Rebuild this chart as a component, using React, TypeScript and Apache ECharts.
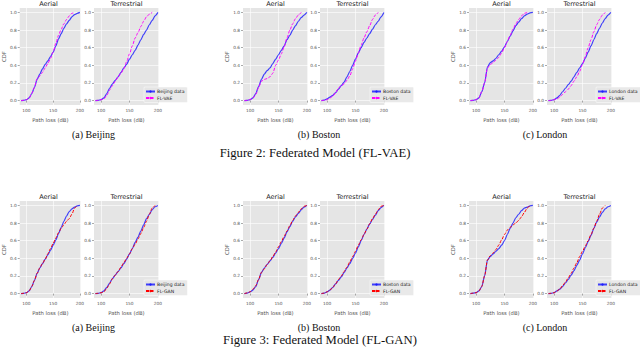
import { useEffect, useRef } from "react";
import * as echarts from "echarts";

// Path loss grid (dB) shared by every CDF curve
const pathLoss = [90, 95, 100, 105, 110, 115, 120, 125, 130, 135, 140, 145, 150, 155, 160, 165, 170, 175, 180, 185, 190, 195, 200];

const xTicks = [100, 150, 200];
const yTicks = [0, 0.2, 0.4, 0.6, 0.8, 1.0];

const cities = ["Beijing", "Boston", "London"];
const panels = ["Aerial", "Terrestrial"];
const subCaptions = ["(a) Beijing", "(b) Boston", "(c) London"];
const figCaptions = ["Figure 2: Federated Model (FL-VAE)", "Figure 3: Federated Model (FL-GAN)"];
const modelNames = ["FL-VAE", "FL-GAN"];

// ---- Figure 2 (FL-VAE) ----
const vaeBeijingAerialData = [0, 0.003, 0.01, 0.03, 0.08, 0.15, 0.24, 0.30, 0.36, 0.41, 0.45, 0.50, 0.55, 0.62, 0.70, 0.76, 0.82, 0.87, 0.91, 0.95, 0.975, 0.99, 1.0];
const vaeBeijingAerialModel = [0, 0.003, 0.01, 0.03, 0.08, 0.15, 0.25, 0.28, 0.32, 0.37, 0.42, 0.48, 0.55, 0.65, 0.74, 0.81, 0.87, 0.92, 0.96, 0.99, 1.0, null, null];
const vaeBeijingTerrData = [0, 0.003, 0.01, 0.03, 0.08, 0.14, 0.19, 0.23, 0.27, 0.32, 0.37, 0.41, 0.47, 0.52, 0.57, 0.63, 0.69, 0.75, 0.80, 0.86, 0.91, 0.96, 1.0];
const vaeBeijingTerrModel = [0, 0.003, 0.01, 0.02, 0.06, 0.12, 0.17, 0.22, 0.27, 0.31, 0.36, 0.44, 0.53, 0.62, 0.71, 0.77, 0.84, 0.90, 0.95, 0.98, 1.0, null, null];

const vaeBostonAerialData = [0, 0.003, 0.01, 0.03, 0.08, 0.16, 0.24, 0.30, 0.34, 0.37, 0.42, 0.47, 0.52, 0.57, 0.62, 0.69, 0.74, 0.80, 0.85, 0.90, 0.94, 0.97, 1.0];
const vaeBostonAerialModel = [0, 0.003, 0.01, 0.03, 0.07, 0.15, 0.22, 0.24, 0.25, 0.27, 0.31, 0.40, 0.46, 0.53, 0.61, 0.71, 0.80, 0.87, 0.93, 0.97, 1.0, null, null];
const vaeBostonTerrData = [0, 0.005, 0.02, 0.04, 0.06, 0.09, 0.13, 0.17, 0.21, 0.27, 0.33, 0.40, 0.47, 0.54, 0.60, 0.66, 0.71, 0.76, 0.81, 0.86, 0.90, 0.95, 1.0];
const vaeBostonTerrModel = [0, 0.003, 0.01, 0.03, 0.05, 0.09, 0.14, 0.17, 0.19, 0.23, 0.28, 0.36, 0.45, 0.54, 0.63, 0.71, 0.78, 0.85, 0.92, 0.97, 1.0, null, null];

const vaeLondonAerialData = [0, 0.003, 0.01, 0.03, 0.10, 0.20, 0.38, 0.43, 0.45, 0.48, 0.52, 0.56, 0.61, 0.67, 0.73, 0.79, 0.85, 0.89, 0.93, 0.96, 0.98, 0.995, 1.0];
const vaeLondonAerialModel = [0, 0.003, 0.01, 0.03, 0.10, 0.20, 0.37, 0.41, 0.43, 0.46, 0.49, 0.54, 0.60, 0.67, 0.74, 0.81, 0.87, 0.92, 0.96, 0.99, 1.0, null, null];
const vaeLondonTerrData = [0, 0.003, 0.01, 0.03, 0.06, 0.10, 0.14, 0.18, 0.22, 0.27, 0.32, 0.37, 0.42, 0.48, 0.55, 0.62, 0.69, 0.76, 0.82, 0.88, 0.93, 0.97, 1.0];
const vaeLondonTerrModel = [0, 0.002, 0.01, 0.02, 0.04, 0.07, 0.10, 0.13, 0.17, 0.22, 0.27, 0.33, 0.41, 0.50, 0.60, 0.69, 0.78, 0.86, 0.92, 0.97, 1.0, null, null];

// ---- Figure 3 (FL-GAN) ----
const ganBeijingAerialData = [0, 0.003, 0.01, 0.03, 0.08, 0.15, 0.23, 0.29, 0.34, 0.39, 0.44, 0.49, 0.55, 0.61, 0.68, 0.75, 0.82, 0.88, 0.93, 0.96, 0.98, 0.995, 1.0];
const ganBeijingAerialModel = [0, 0.003, 0.01, 0.03, 0.08, 0.15, 0.23, 0.29, 0.34, 0.39, 0.45, 0.51, 0.57, 0.63, 0.69, 0.74, 0.78, 0.82, 0.85, 0.90, 0.97, 1.0, null];
const ganBeijingTerrData = [0, 0.003, 0.01, 0.03, 0.07, 0.12, 0.17, 0.21, 0.25, 0.29, 0.34, 0.39, 0.45, 0.51, 0.58, 0.64, 0.71, 0.78, 0.85, 0.90, 0.95, 0.985, 1.0];
const ganBeijingTerrModel = [0, 0.003, 0.01, 0.02, 0.06, 0.11, 0.17, 0.21, 0.25, 0.30, 0.35, 0.40, 0.45, 0.51, 0.56, 0.62, 0.68, 0.75, 0.82, 0.90, 0.97, 1.0, null];

const ganBostonAerialData = [0, 0.005, 0.02, 0.04, 0.08, 0.16, 0.24, 0.29, 0.33, 0.37, 0.41, 0.46, 0.51, 0.57, 0.63, 0.70, 0.76, 0.82, 0.87, 0.91, 0.95, 0.98, 1.0];
const ganBostonAerialModel = [0, 0.008, 0.02, 0.05, 0.09, 0.16, 0.24, 0.28, 0.33, 0.37, 0.42, 0.47, 0.53, 0.59, 0.65, 0.71, 0.77, 0.83, 0.88, 0.92, 0.96, 0.99, 1.0];
const ganBostonTerrData = [0, 0.005, 0.02, 0.04, 0.07, 0.11, 0.15, 0.19, 0.24, 0.29, 0.34, 0.40, 0.46, 0.53, 0.60, 0.67, 0.73, 0.79, 0.84, 0.89, 0.94, 0.975, 1.0];
const ganBostonTerrModel = [0, 0.005, 0.02, 0.04, 0.07, 0.11, 0.16, 0.20, 0.25, 0.30, 0.36, 0.42, 0.48, 0.55, 0.61, 0.67, 0.73, 0.79, 0.85, 0.90, 0.95, 0.99, 1.0];

const ganLondonAerialData = [0, 0.005, 0.01, 0.03, 0.08, 0.20, 0.38, 0.42, 0.45, 0.48, 0.51, 0.55, 0.60, 0.67, 0.74, 0.80, 0.86, 0.90, 0.94, 0.97, 0.98, 0.995, 1.0];
const ganLondonAerialModel = [0, 0.005, 0.01, 0.03, 0.08, 0.20, 0.38, 0.43, 0.46, 0.50, 0.55, 0.61, 0.67, 0.72, 0.75, 0.78, 0.80, 0.83, 0.87, 0.92, 0.97, 1.0, null];
const ganLondonTerrData = [0, 0.003, 0.01, 0.03, 0.05, 0.08, 0.12, 0.16, 0.21, 0.26, 0.32, 0.38, 0.45, 0.52, 0.59, 0.66, 0.74, 0.81, 0.87, 0.92, 0.96, 0.985, 1.0];
const ganLondonTerrModel = [0, 0.003, 0.01, 0.03, 0.05, 0.09, 0.13, 0.18, 0.23, 0.29, 0.35, 0.42, 0.48, 0.54, 0.60, 0.67, 0.74, 0.82, 0.90, 0.97, 1.0, null, null];

// curves[row][city][panel] = [data, model]
const curves = [
  [
    [[vaeBeijingAerialData, vaeBeijingAerialModel], [vaeBeijingTerrData, vaeBeijingTerrModel]],
    [[vaeBostonAerialData, vaeBostonAerialModel], [vaeBostonTerrData, vaeBostonTerrModel]],
    [[vaeLondonAerialData, vaeLondonAerialModel], [vaeLondonTerrData, vaeLondonTerrModel]],
  ],
  [
    [[ganBeijingAerialData, ganBeijingAerialModel], [ganBeijingTerrData, ganBeijingTerrModel]],
    [[ganBostonAerialData, ganBostonAerialModel], [ganBostonTerrData, ganBostonTerrModel]],
    [[ganLondonAerialData, ganLondonAerialModel], [ganLondonTerrData, ganLondonTerrModel]],
  ],
];

// layout (pixels)
const rowTops = [8, 201];
const plotH = 97;
const plotW = 65;
const panelLefts = [
  [16, 94],
  [243, 320],
  [469, 547],
];
const legendLefts = [144, 370, 596];
const subCaptionX = [93.5, 319, 545];
const figCaptionX = [315, 320];
const figCaptionY = [153, 340];
const modelColors = ["#ff00ff", "#ff0000"];
const dataColor = "rgba(20,20,255,0.8)";

function buildOption() {
  const grid: any[] = [];
  const xAxis: any[] = [];
  const yAxis: any[] = [];
  const series: any[] = [];
  const legend: any[] = [];
  const graphic: any[] = [];
  const tickFont = { fontSize: 4.3, color: "#555555", fontFamily: "DejaVu Sans" };

  for (let r = 0; r < 2; r++) {
    for (let c = 0; c < 3; c++) {
      for (let p = 0; p < 2; p++) {
        const idx = grid.length;
        const left = panelLefts[c][p];
        const top = rowTops[r];
        grid.push({ left, top, width: plotW, height: plotH, show: true, backgroundColor: "#e5e5e5", borderWidth: 0 });
        xAxis.push({
          type: "value",
          gridIndex: idx,
          min: 87.5,
          max: 202,
          name: "Path loss (dB)",
          nameLocation: "middle",
          nameGap: 12,
          nameTextStyle: { fontSize: 5.3, color: "#555555", fontFamily: "DejaVu Sans" },
          axisLine: { show: false },
          axisTick: { show: true, length: 2, lineStyle: { color: "#555555", width: 0.5 }, customValues: xTicks },
          axisLabel: { ...tickFont, margin: 3, customValues: xTicks, formatter: (v: number) => String(Math.round(v)) },
          splitLine: { show: true, lineStyle: { color: "#ffffff", width: 0.6 } },
        });
        yAxis.push({
          type: "value",
          gridIndex: idx,
          min: -0.05,
          max: 1.05,
          name: p === 0 ? "CDF" : "",
          nameLocation: "middle",
          nameGap: 12,
          nameRotate: 90,
          nameTextStyle: { fontSize: 5.3, color: "#555555", fontFamily: "DejaVu Sans" },
          axisLine: { show: false },
          axisTick: { show: true, length: 2, lineStyle: { color: "#555555", width: 0.5 }, customValues: yTicks },
          axisLabel: { ...tickFont, margin: 3, customValues: yTicks, formatter: (v: number) => v.toFixed(1) },
          splitLine: { show: true, lineStyle: { color: "#ffffff", width: 0.6 } },
        });
        const [dataVals, modelVals] = curves[r][c][p];
        series.push({
          type: "line",
          name: cities[c] + " data",
          xAxisIndex: idx,
          yAxisIndex: idx,
          data: pathLoss.map((x, i) => [x, dataVals[i]]).filter((d) => d[1] !== null),
          showSymbol: false,
          symbol: "none",
          smooth: 0.25,
          smoothMonotone: "x",
          lineStyle: { color: dataColor, width: 1.2 },
          itemStyle: { color: dataColor },
          z: 2,
        });
        series.push({
          type: "line",
          name: modelNames[r],
          xAxisIndex: idx,
          yAxisIndex: idx,
          data: pathLoss.map((x, i) => [x, modelVals[i]]).filter((d) => d[1] !== null),
          showSymbol: false,
          symbol: "none",
          smooth: 0.25,
          smoothMonotone: "x",
          lineStyle: { color: modelColors[r], width: 1, type: [3, 1.5] },
          itemStyle: { color: modelColors[r] },
          z: 3,
        });
        graphic.push({
          type: "text",
          style: {
            text: panels[p],
            x: left + plotW / 2,
            y: top - 4.5,
            fill: "#222222",
            font: "6.5px 'DejaVu Sans'",
            textAlign: "center",
            textVerticalAlign: "middle",
            align: "center",
            verticalAlign: "middle",
          },
        });
      }
      legend.push({
        left: legendLefts[c],
        top: rowTops[r] + 79,
        orient: "vertical",
        itemWidth: 9,
        itemHeight: 3,
        itemGap: 1.5,
        padding: [2, 3, 2, 1],
        selectedMode: false,
        backgroundColor: "rgba(229,229,229,0.85)",
        borderColor: "#ffffff",
        borderWidth: 0.5,
        borderRadius: 1,
        textStyle: { fontSize: 4.6, color: "#222222", fontFamily: "DejaVu Sans", padding: [0, 0, 0, -3] },
        data: [cities[c] + " data", modelNames[r]],
      });
      graphic.push({
        type: "text",
        style: {
          text: subCaptions[c],
          x: subCaptionX[c],
          y: rowTops[r] + 126,
          fill: "#111111",
          font: "10px 'Liberation Serif'",
          textAlign: "center",
          textVerticalAlign: "middle",
          align: "center",
          verticalAlign: "middle",
        },
      });
    }
    graphic.push({
      type: "text",
      style: {
        text: figCaptions[r],
        x: figCaptionX[r],
        y: figCaptionY[r],
        fill: "#111111",
        font: "12.7px 'Liberation Serif'",
        textAlign: "center",
        textVerticalAlign: "middle",
        align: "center",
        verticalAlign: "middle",
      },
    });
  }

  return {
    animation: false,
    backgroundColor: "#ffffff",
    grid,
    xAxis,
    yAxis,
    series,
    legend,
    graphic,
  };
}

export default function App() {
  const ref = useRef<HTMLDivElement>(null);
  useEffect(() => {
    const chart = echarts.init(ref.current!, null, { renderer: "svg" });
    chart.setOption(buildOption() as any);
    return () => chart.dispose();
  }, []);
  return (
    <div
      ref={ref}
      style={{ position: "fixed", left: 0, top: 0, width: 640, height: 347, background: "#ffffff" }}
    />
  );
}
